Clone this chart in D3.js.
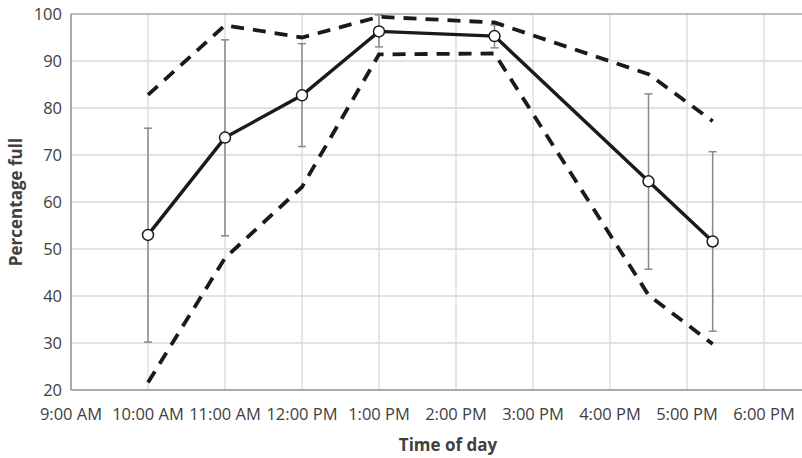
<!DOCTYPE html>
<head>
  <meta charset="utf-8">
  <script src="https://d3js.org/d3.v7.min.js"></script>
  <style>
    body { margin:0; background:#fff; overflow:hidden; }
    text { font-family: "Open Sans", sans-serif; fill:#404040; }
  </style>
</head>
<body>
<script>

// time of day (hour, minute) for each observation
var times = [[10,0],[11,0],[12,0],[13,0],[14,30],[16,30],[17,20]];
var meanFull = [53.0, 73.7, 82.7, 96.3, 95.3, 64.4, 51.6];
var errLow   = [30.2, 52.8, 71.8, 93.0, 92.8, 45.7, 32.5];
var errHigh  = [75.7, 94.5, 93.7, 99.8, 97.7, 83.0, 70.7];
var upperBand = [82.8, 97.6, 95.0, 99.4, 98.2, 87.2, 77.2];
var lowerBand = [21.6, 48.1, 63.2, 91.4, 91.6, 40.2, 29.8];

var xTickHours = [9,10,11,12,13,14,15,16,17,18];
var xTickLabels = ["9:00 AM","10:00 AM","11:00 AM","12:00 PM","1:00 PM","2:00 PM","3:00 PM","4:00 PM","5:00 PM","6:00 PM"];
var yTicks = [20,30,40,50,60,70,80,90,100];

var W = 802, H = 458;
var pLeft = 71, pTop = 14, pBottom = 390, pRight = 830;

function t(h, m) { return new Date(2020, 0, 1, h, m); }

var x = d3.scaleTime()
  .domain([t(9,0), t(18,0)])
  .range([pLeft, 764]);
var y = d3.scaleLinear()
  .domain([20, 100])
  .range([pBottom, pTop]);

var data = times.map(function(d, i) {
  return { date: t(d[0], d[1]), mean: meanFull[i], lo: errLow[i], hi: errHigh[i], up: upperBand[i], dn: lowerBand[i] };
});

var svg = d3.select("body").append("svg")
  .attr("width", W)
  .attr("height", H);

// gridlines
var grid = svg.append("g");
grid.selectAll(".hg").data(yTicks.slice(1, -1)).enter().append("line")
  .attr("x1", pLeft).attr("x2", pRight)
  .attr("y1", function(d) { return y(d); })
  .attr("y2", function(d) { return y(d); })
  .style("stroke", "#d9d9d9").style("stroke-width", 1.3);
grid.selectAll(".vg").data(xTickHours.slice(1)).enter().append("line")
  .attr("x1", function(d) { return x(t(d,0)); })
  .attr("x2", function(d) { return x(t(d,0)); })
  .attr("y1", pTop).attr("y2", pBottom)
  .style("stroke", "#d9d9d9").style("stroke-width", 1.3);

// frame lines
svg.append("line").attr("x1", pLeft).attr("x2", pRight).attr("y1", y(100)).attr("y2", y(100))
  .style("stroke", "#a6a6a6").style("stroke-width", 1.5);
svg.append("line").attr("x1", pLeft).attr("x2", pRight).attr("y1", y(20)).attr("y2", y(20))
  .style("stroke", "#8c8c8c").style("stroke-width", 1.5);
svg.append("line").attr("x1", pLeft).attr("x2", pLeft).attr("y1", pTop).attr("y2", pBottom)
  .style("stroke", "#8c8c8c").style("stroke-width", 1.5);

// y tick labels
svg.selectAll(".yl").data(yTicks).enter().append("text")
  .attr("x", 62)
  .attr("y", function(d) { return y(d); })
  .attr("dy", "0.36em")
  .attr("text-anchor", "end")
  .style("font-size", "16.5px")
  .text(function(d) { return d; });

// x tick labels
svg.selectAll(".xl").data(xTickHours).enter().append("text")
  .attr("x", function(d) { return x(t(d,0)); })
  .attr("y", 420)
  .attr("text-anchor", "middle")
  .style("font-size", "16.5px")
  .text(function(d, i) { return xTickLabels[i]; });

// axis titles
svg.append("text")
  .attr("x", 448).attr("y", 451)
  .attr("text-anchor", "middle")
  .style("font-size", "17px").style("font-weight", "bold")
  .text("Time of day");
svg.append("text")
  .attr("transform", "translate(22," + ((pTop + pBottom) / 2) + ") rotate(-90)")
  .attr("text-anchor", "middle")
  .style("font-size", "17px").style("font-weight", "bold")
  .text("Percentage full");

// error bars
var eb = svg.append("g").style("stroke", "#888").style("stroke-width", 1.5);
eb.selectAll(".ev").data(data).enter().append("line")
  .attr("x1", function(d) { return x(d.date); })
  .attr("x2", function(d) { return x(d.date); })
  .attr("y1", function(d) { return y(d.lo); })
  .attr("y2", function(d) { return y(d.hi); });
eb.selectAll(".ct").data(data).enter().append("line")
  .attr("x1", function(d) { return x(d.date) - 4; })
  .attr("x2", function(d) { return x(d.date) + 4; })
  .attr("y1", function(d) { return y(d.hi); })
  .attr("y2", function(d) { return y(d.hi); });
eb.selectAll(".cb").data(data).enter().append("line")
  .attr("x1", function(d) { return x(d.date) - 4; })
  .attr("x2", function(d) { return x(d.date) + 4; })
  .attr("y1", function(d) { return y(d.lo); })
  .attr("y2", function(d) { return y(d.lo); });

// dashed bands
var lineUp = d3.line().x(function(d) { return x(d.date); }).y(function(d) { return y(d.up); });
var lineDn = d3.line().x(function(d) { return x(d.date); }).y(function(d) { return y(d.dn); });
var lineMean = d3.line().x(function(d) { return x(d.date); }).y(function(d) { return y(d.mean); });

[lineUp, lineDn].forEach(function(l) {
  svg.append("path")
    .attr("d", l(data))
    .style("fill", "none")
    .style("stroke", "#1a1a1a")
    .style("stroke-width", 3.8)
    .style("stroke-dasharray", "13,9");
});

svg.append("path")
  .attr("d", lineMean(data))
  .style("fill", "none")
  .style("stroke", "#1a1a1a")
  .style("stroke-width", 3.4);

svg.selectAll(".pt").data(data).enter().append("circle")
  .attr("cx", function(d) { return x(d.date); })
  .attr("cy", function(d) { return y(d.mean); })
  .attr("r", 5.5)
  .style("fill", "#fff")
  .style("stroke", "#1a1a1a")
  .style("stroke-width", 1.5);

</script>
</body>
